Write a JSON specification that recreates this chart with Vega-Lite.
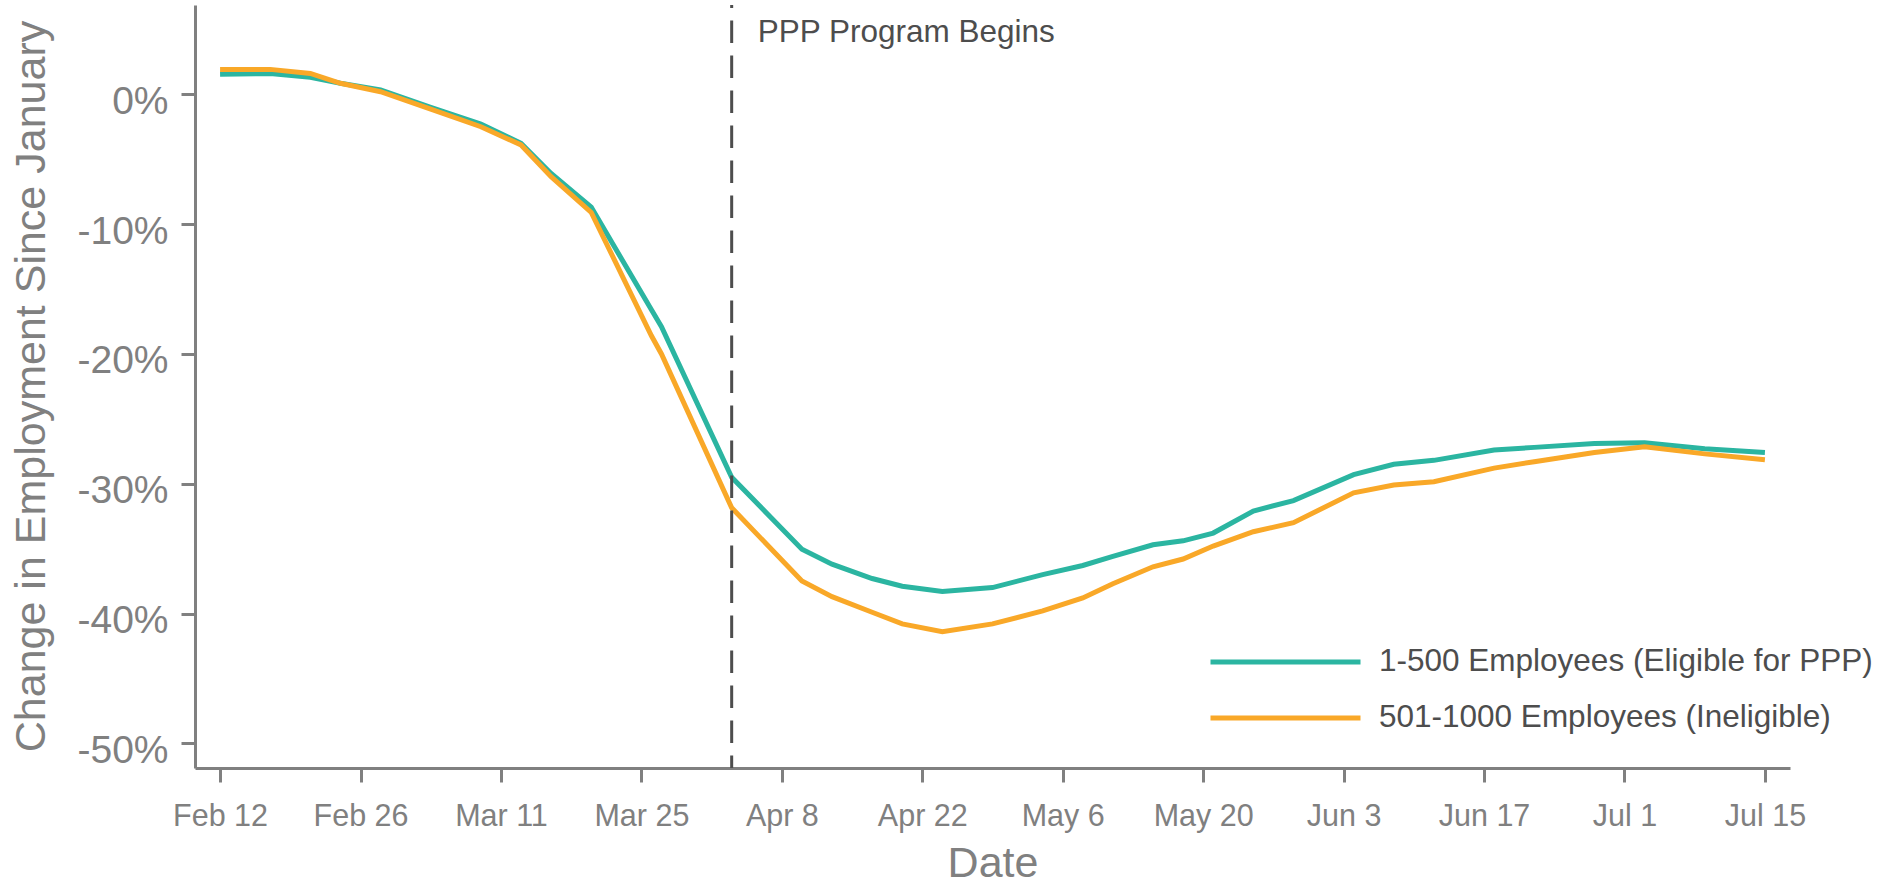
{
  "$schema": "https://vega.github.io/schema/vega-lite/v6.json",
  "width": 1595,
  "height": 763,
  "autosize": {"type": "none"},
  "padding": {"left": 195, "top": 5, "right": 98, "bottom": 115},
  "background": "white",
  "config": {"view": {"stroke": null}, "font": "Liberation Sans"},
  "datasets": {
    "series": [
      {"date": "2020-02-12", "group": "1-500 Employees (Eligible for PPP)", "change": 1.54},
      {"date": "2020-02-17", "group": "1-500 Employees (Eligible for PPP)", "change": 1.61},
      {"date": "2020-02-21", "group": "1-500 Employees (Eligible for PPP)", "change": 1.31},
      {"date": "2020-02-24", "group": "1-500 Employees (Eligible for PPP)", "change": 0.85},
      {"date": "2020-02-28", "group": "1-500 Employees (Eligible for PPP)", "change": 0.33},
      {"date": "2020-03-04", "group": "1-500 Employees (Eligible for PPP)", "change": -1.0},
      {"date": "2020-03-09", "group": "1-500 Employees (Eligible for PPP)", "change": -2.3},
      {"date": "2020-03-13", "group": "1-500 Employees (Eligible for PPP)", "change": -3.77},
      {"date": "2020-03-16", "group": "1-500 Employees (Eligible for PPP)", "change": -6.1},
      {"date": "2020-03-20", "group": "1-500 Employees (Eligible for PPP)", "change": -8.7},
      {"date": "2020-03-26", "group": "1-500 Employees (Eligible for PPP)", "change": -16.6},
      {"date": "2020-03-27", "group": "1-500 Employees (Eligible for PPP)", "change": -17.9},
      {"date": "2020-04-03", "group": "1-500 Employees (Eligible for PPP)", "change": -29.5},
      {"date": "2020-04-10", "group": "1-500 Employees (Eligible for PPP)", "change": -35.05},
      {"date": "2020-04-13", "group": "1-500 Employees (Eligible for PPP)", "change": -36.2},
      {"date": "2020-04-17", "group": "1-500 Employees (Eligible for PPP)", "change": -37.3},
      {"date": "2020-04-20", "group": "1-500 Employees (Eligible for PPP)", "change": -37.9},
      {"date": "2020-04-24", "group": "1-500 Employees (Eligible for PPP)", "change": -38.3},
      {"date": "2020-04-29", "group": "1-500 Employees (Eligible for PPP)", "change": -38.0},
      {"date": "2020-05-04", "group": "1-500 Employees (Eligible for PPP)", "change": -37.0},
      {"date": "2020-05-08", "group": "1-500 Employees (Eligible for PPP)", "change": -36.3},
      {"date": "2020-05-11", "group": "1-500 Employees (Eligible for PPP)", "change": -35.6},
      {"date": "2020-05-15", "group": "1-500 Employees (Eligible for PPP)", "change": -34.7},
      {"date": "2020-05-18", "group": "1-500 Employees (Eligible for PPP)", "change": -34.4},
      {"date": "2020-05-21", "group": "1-500 Employees (Eligible for PPP)", "change": -33.8},
      {"date": "2020-05-25", "group": "1-500 Employees (Eligible for PPP)", "change": -32.1},
      {"date": "2020-05-29", "group": "1-500 Employees (Eligible for PPP)", "change": -31.3},
      {"date": "2020-06-04", "group": "1-500 Employees (Eligible for PPP)", "change": -29.3},
      {"date": "2020-06-08", "group": "1-500 Employees (Eligible for PPP)", "change": -28.5},
      {"date": "2020-06-12", "group": "1-500 Employees (Eligible for PPP)", "change": -28.2},
      {"date": "2020-06-18", "group": "1-500 Employees (Eligible for PPP)", "change": -27.4},
      {"date": "2020-06-22", "group": "1-500 Employees (Eligible for PPP)", "change": -27.2},
      {"date": "2020-06-28", "group": "1-500 Employees (Eligible for PPP)", "change": -26.9},
      {"date": "2020-07-03", "group": "1-500 Employees (Eligible for PPP)", "change": -26.85},
      {"date": "2020-07-09", "group": "1-500 Employees (Eligible for PPP)", "change": -27.3},
      {"date": "2020-07-15", "group": "1-500 Employees (Eligible for PPP)", "change": -27.6},
      {"date": "2020-02-12", "group": "501-1000 Employees (Ineligible)", "change": 1.92},
      {"date": "2020-02-17", "group": "501-1000 Employees (Ineligible)", "change": 1.92},
      {"date": "2020-02-21", "group": "501-1000 Employees (Ineligible)", "change": 1.61},
      {"date": "2020-02-24", "group": "501-1000 Employees (Ineligible)", "change": 0.85},
      {"date": "2020-02-28", "group": "501-1000 Employees (Ineligible)", "change": 0.2},
      {"date": "2020-03-04", "group": "501-1000 Employees (Ineligible)", "change": -1.15},
      {"date": "2020-03-09", "group": "501-1000 Employees (Ineligible)", "change": -2.5},
      {"date": "2020-03-13", "group": "501-1000 Employees (Ineligible)", "change": -3.9},
      {"date": "2020-03-16", "group": "501-1000 Employees (Ineligible)", "change": -6.35},
      {"date": "2020-03-20", "group": "501-1000 Employees (Ineligible)", "change": -9.1},
      {"date": "2020-03-26", "group": "501-1000 Employees (Ineligible)", "change": -18.6},
      {"date": "2020-03-27", "group": "501-1000 Employees (Ineligible)", "change": -20.0},
      {"date": "2020-04-03", "group": "501-1000 Employees (Ineligible)", "change": -31.85},
      {"date": "2020-04-10", "group": "501-1000 Employees (Ineligible)", "change": -37.5},
      {"date": "2020-04-13", "group": "501-1000 Employees (Ineligible)", "change": -38.7},
      {"date": "2020-04-17", "group": "501-1000 Employees (Ineligible)", "change": -39.9},
      {"date": "2020-04-20", "group": "501-1000 Employees (Ineligible)", "change": -40.8},
      {"date": "2020-04-24", "group": "501-1000 Employees (Ineligible)", "change": -41.4},
      {"date": "2020-04-29", "group": "501-1000 Employees (Ineligible)", "change": -40.8},
      {"date": "2020-05-04", "group": "501-1000 Employees (Ineligible)", "change": -39.8},
      {"date": "2020-05-08", "group": "501-1000 Employees (Ineligible)", "change": -38.8},
      {"date": "2020-05-11", "group": "501-1000 Employees (Ineligible)", "change": -37.7},
      {"date": "2020-05-15", "group": "501-1000 Employees (Ineligible)", "change": -36.4},
      {"date": "2020-05-18", "group": "501-1000 Employees (Ineligible)", "change": -35.8},
      {"date": "2020-05-21", "group": "501-1000 Employees (Ineligible)", "change": -34.8},
      {"date": "2020-05-25", "group": "501-1000 Employees (Ineligible)", "change": -33.7},
      {"date": "2020-05-29", "group": "501-1000 Employees (Ineligible)", "change": -33.0},
      {"date": "2020-06-04", "group": "501-1000 Employees (Ineligible)", "change": -30.7},
      {"date": "2020-06-08", "group": "501-1000 Employees (Ineligible)", "change": -30.1},
      {"date": "2020-06-12", "group": "501-1000 Employees (Ineligible)", "change": -29.85},
      {"date": "2020-06-18", "group": "501-1000 Employees (Ineligible)", "change": -28.8},
      {"date": "2020-06-22", "group": "501-1000 Employees (Ineligible)", "change": -28.3},
      {"date": "2020-06-28", "group": "501-1000 Employees (Ineligible)", "change": -27.6},
      {"date": "2020-07-03", "group": "501-1000 Employees (Ineligible)", "change": -27.15},
      {"date": "2020-07-09", "group": "501-1000 Employees (Ineligible)", "change": -27.7},
      {"date": "2020-07-15", "group": "501-1000 Employees (Ineligible)", "change": -28.15}
    ],
    "events": [
      {"date": "2020-04-03", "label": "PPP Program Begins", "label_y": 4.0}
    ]
  },
  "layer": [
    {
      "data": {"name": "series"},
      "mark": {"type": "line", "strokeWidth": 5},
      "encoding": {
        "x": {
          "field": "date",
          "type": "temporal",
          "scale": {
            "type": "utc",
            "domain": [
              {"year": 2020, "month": 2, "date": 9, "hours": 12, "utc": true},
              {"year": 2020, "month": 7, "date": 17, "hours": 12, "utc": true}
            ]
          },
          "axis": {
            "title": "Date",
            "values": [
              {"year": 2020, "month": 2, "date": 12, "utc": true},
              {"year": 2020, "month": 2, "date": 26, "utc": true},
              {"year": 2020, "month": 3, "date": 11, "utc": true},
              {"year": 2020, "month": 3, "date": 25, "utc": true},
              {"year": 2020, "month": 4, "date": 8, "utc": true},
              {"year": 2020, "month": 4, "date": 22, "utc": true},
              {"year": 2020, "month": 5, "date": 6, "utc": true},
              {"year": 2020, "month": 5, "date": 20, "utc": true},
              {"year": 2020, "month": 6, "date": 3, "utc": true},
              {"year": 2020, "month": 6, "date": 17, "utc": true},
              {"year": 2020, "month": 7, "date": 1, "utc": true},
              {"year": 2020, "month": 7, "date": 15, "utc": true}
            ],
            "labelExpr": "utcFormat(datum.value, '%b %-d')",
            "grid": false,
            "domainColor": "#808080",
            "domainWidth": 3,
            "tickColor": "#808080",
            "tickWidth": 3,
            "tickSize": 14,
            "labelFontSize": 30.5,
            "labelColor": "#808080",
            "labelBaseline": "alphabetic",
            "labelPadding": 43,
            "labelFlush": false,
            "labelOverlap": false,
            "titleFontSize": 43,
            "titleFontWeight": "normal",
            "titleColor": "#808080",
            "titleBaseline": "alphabetic",
            "titleAlign": "center",
            "titleX": 797.5,
            "titleY": 108
          }
        },
        "y": {
          "field": "change",
          "type": "quantitative",
          "scale": {"domain": [-51.9, 6.88], "nice": false, "zero": false},
          "axis": {
            "title": "Change in Employment Since January",
            "values": [-50, -40, -30, -20, -10, 0],
            "labelExpr": "datum.value + '%'",
            "grid": false,
            "domainColor": "#808080",
            "domainWidth": 3,
            "tickColor": "#808080",
            "tickWidth": 3,
            "tickSize": 14,
            "labelFontSize": 39,
            "labelColor": "#808080",
            "labelPadding": 13,
            "labelBaseline": "alphabetic",
            "labelOffset": 19,
            "titleFontSize": 43,
            "titleFontWeight": "normal",
            "titleColor": "#808080",
            "titleAngle": 270,
            "titleAlign": "center",
            "titleBaseline": "alphabetic",
            "titleX": -151,
            "titleY": 381
          }
        },
        "color": {
          "field": "group",
          "type": "nominal",
          "scale": {
            "domain": ["1-500 Employees (Eligible for PPP)", "501-1000 Employees (Ineligible)"],
            "range": ["#2BB5A1", "#F9A828"]
          },
          "legend": {
            "title": null,
            "orient": "none",
            "legendX": 1013,
            "legendY": 641,
            "symbolType": "stroke",
            "symbolSize": 22500,
            "symbolStrokeWidth": 5,
            "clipHeight": 32,
            "labelFontSize": 31.5,
            "labelColor": "#4d4d4d",
            "labelOffset": 16,
            "labelLimit": 1000,
            "rowPadding": 24,
            "padding": 0
          }
        }
      }
    },
    {
      "data": {"name": "events"},
      "mark": {"type": "rule", "strokeDash": [22.5, 12.5], "strokeDashOffset": 19.5, "strokeWidth": 3, "color": "#4d4d4d"},
      "encoding": {
        "x": {"field": "date", "type": "temporal"}
      }
    },
    {
      "data": {"name": "events"},
      "mark": {"type": "text", "align": "left", "baseline": "alphabetic", "dx": 26, "fontSize": 31.5, "color": "#4d4d4d"},
      "encoding": {
        "x": {"field": "date", "type": "temporal"},
        "y": {"field": "label_y", "type": "quantitative"},
        "text": {"field": "label"}
      }
    }
  ]
}
